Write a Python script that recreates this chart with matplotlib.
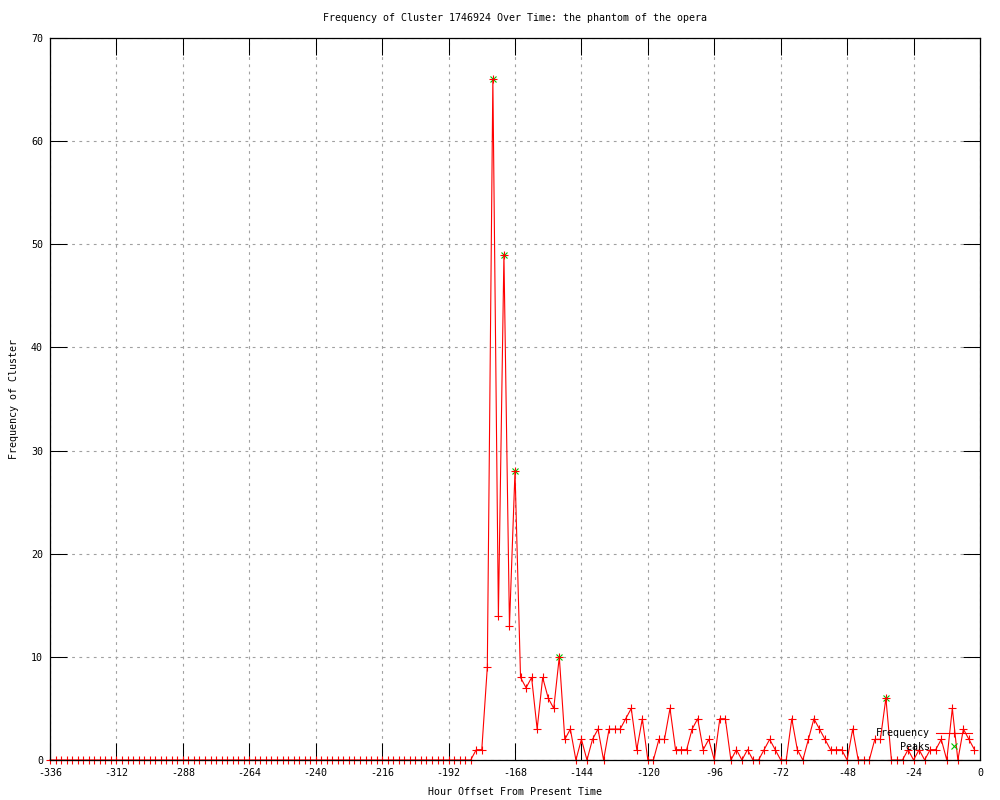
import matplotlib
matplotlib.use("Agg")
import matplotlib.pyplot as plt
import numpy as np

# hour offsets (every 2 hours) and cluster frequency
hours = list(range(-336, 0, 2))
freq_tail = [
    1, 1, 9, 66, 14, 49, 13, 28, 8, 7, 8, 3, 8, 6, 5, 10,      # -182 .. -152
    2, 3, 0, 2, 0, 2, 3, 0, 3, 3, 3, 4, 5, 1, 4, 0,            # -150 .. -120
    0, 2, 2, 5, 1, 1, 1, 3, 4, 1, 2, 0, 4, 4, 0, 1,            # -118 .. -88
    0, 1, 0, 0, 1, 2, 1, 0, 0, 4, 1, 0, 2, 4, 3, 2,            # -86 .. -56
    1, 1, 1, 0, 3, 0, 0, 0, 2, 2, 6, 0, 0, 0, 1, 0,            # -54 .. -24
    1, 0, 1, 1, 2, 0, 5, 0, 3, 2, 1,                           # -22 .. -2
]
freq = [0] * (len(hours) - len(freq_tail)) + freq_tail

peak_hours = [-176, -172, -168, -152, -34]
peak_vals = [66, 49, 28, 10, 6]

xticks = list(range(-336, 1, 24))
yticks = list(range(0, 71, 10))

title = "Frequency of Cluster 1746924 Over Time: the phantom of the opera"
font = "DejaVu Sans Mono"
fs = 7.2

plt.rcParams['font.family'] = [font]

fig = plt.figure(figsize=(10, 8), dpi=100)
ax = fig.add_axes([0.05, 0.05, 0.93, 0.9025])

ax.plot(peak_hours, peak_vals, linestyle="none", marker="x", color="#00c000",
        markersize=5, markeredgewidth=0.8, label="Peaks", clip_on=False, zorder=2)
ax.plot(hours, freq, color="red", linewidth=0.8, marker="+", markersize=6,
        markeredgewidth=0.8, label="Frequency", clip_on=False, zorder=3)

ax.set_xlim(-336, 0)
ax.set_ylim(0, 70)
ax.set_xticks(xticks)
ax.set_yticks(yticks)
ax.set_xticklabels([str(t) for t in xticks], fontsize=fs)
ax.set_yticklabels([str(t) for t in yticks], fontsize=fs)
ax.tick_params(direction="in", length=12, width=0.75, top=True, right=True,
               colors="black")
ax.tick_params(axis="x", pad=6)
ax.tick_params(axis="y", pad=5)

ax.grid(True, color="#a0a0a0", linestyle=(0, (2.5, 4)), linewidth=0.8)
ax.set_axisbelow(True)
for s in ax.spines.values():
    s.set_linewidth(0.9)
    s.set_zorder(4)

ax.set_title(title, fontsize=fs, pad=12)
ax.set_xlabel("Hour Offset From Present Time", fontsize=fs, labelpad=6)
ax.set_ylabel("Frequency of Cluster", fontsize=fs, labelpad=9)

handles, labels = ax.get_legend_handles_labels()
leg = ax.legend(handles[::-1], labels[::-1], loc="lower right",
                bbox_to_anchor=(0.999, 0.002), frameon=False, markerfirst=False,
                fontsize=fs, numpoints=1, handlelength=3.6, handletextpad=0.6,
                labelspacing=0.35, borderpad=0.2)

fig.savefig("out.png", dpi=100)
